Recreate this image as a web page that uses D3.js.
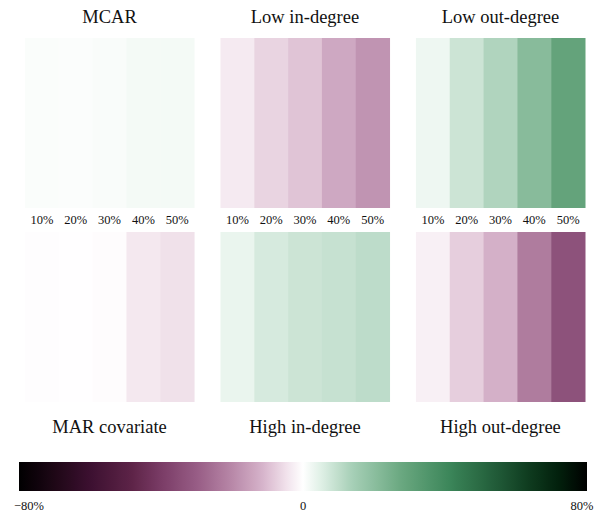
<!DOCTYPE html>
<html><head><meta charset="utf-8">
<script src="https://cdn.jsdelivr.net/npm/d3@7"></script>
<style>body{margin:0;background:#fff}svg{display:block}text{font-family:"Liberation Serif","Times New Roman",serif;fill:#111}</style>
</head><body><svg id="c" width="597" height="516"></svg>
<script>
const rates = ["10%","20%","30%","40%","50%"];
const panelTitles = ["MCAR","Low in-degree","Low out-degree","MAR covariate","High in-degree","High out-degree"];
const mcar = [0.8, 0.6, 1.0, 1.8, 1.8];
const lowIn = [-3.4, -6.8, -9.1, -13.6, -17.6];
const lowOut = [2.7, 8.1, 12.4, 20.9, 29.5];
const marCov = [-0.3, -0.1, -0.5, -3.7, -4.9];
const highIn = [3.4, 6.5, 8.1, 9.0, 10.3];
const highOut = [-2.4, -7.6, -12.0, -22.7, -33.3];
const colorbarTicks = [-80, 0, 80];

// colormap stops (style)
const cmapVals = [-80,-70,-60,-48,-40,-29,-20,-12,-5,0,5,13.6,27.7,41.8,56,64,72,80];
const cmapCols = ["#000000","#1e0716","#3c1030","#5e2448","#7a3c66","#9a6088","#b888a8","#d4b0c8","#f0e0ea","#ffffff","#e0f0e6","#a8d0b8","#6aa880","#3a8458","#1e5634","#0e3a1e","#02200c","#000000"];
const color = d3.scaleLinear().domain(cmapVals).range(cmapCols).interpolate(d3.interpolateRgb).clamp(true);

const series = [mcar, lowIn, lowOut, marCov, highIn, highOut];
const svg = d3.select("#c");

const colX = d3.scaleBand().domain([0,1,2]).range([25, 585]).paddingInner(0.135);
const rowY = [38, 232];
const ph = 170;

series.forEach((vals, i) => {
  const col = i % 3, row = Math.floor(i / 3);
  const x0 = colX(col), w = colX.bandwidth();
  const x = d3.scaleBand().domain(rates).range([x0, x0 + w]);
  const g = svg.append("g");
  g.selectAll("rect").data(vals).join("rect")
    .attr("x", (d, j) => x(rates[j]))
    .attr("y", rowY[row])
    .attr("width", x.bandwidth() + 0.5)
    .attr("height", ph)
    .attr("fill", d => color(d));
  if (row === 0) {
    g.append("g").attr("transform", `translate(0,${rowY[row] + ph})`)
      .call(d3.axisBottom(x).tickSize(0).tickPadding(7))
      .call(a => a.select(".domain").remove())
      .call(a => a.selectAll("text").style("font-family", '"Liberation Serif",serif').style("font-size", "12.5px").attr("fill", "#111"));
    g.append("text").attr("x", x0 + w / 2).attr("y", 23).attr("text-anchor", "middle")
      .style("font-size", "18.5px").text(panelTitles[i]);
  } else {
    g.append("text").attr("x", x0 + w / 2).attr("y", 433).attr("text-anchor", "middle")
      .style("font-size", "18.5px").text(panelTitles[i]);
  }
});

// colorbar
const cb = d3.scaleLinear().domain([-80, 80]).range([19, 587]);
const defs = svg.append("defs");
const grad = defs.append("linearGradient").attr("id", "cbg").attr("x1", "0%").attr("x2", "100%");
d3.range(0, 101).forEach(p => {
  grad.append("stop").attr("offset", p + "%").attr("stop-color", color(-80 + 1.6 * p));
});
svg.append("rect").attr("x", cb(-80)).attr("y", 462).attr("width", cb(80) - cb(-80)).attr("height", 29)
  .attr("fill", "url(#cbg)");
svg.selectAll(".cbt").data(colorbarTicks).join("text")
  .attr("class", "cbt")
  .attr("x", d => cb(d) + (d < 0 ? 10 : d > 0 ? -5 : 0))
  .attr("y", 510)
  .attr("text-anchor", "middle")
  .style("font-size", "12.5px")
  .text(d => d === 0 ? "0" : (d < 0 ? "\u2212" : "") + Math.abs(d) + "%");
</script></body></html>
